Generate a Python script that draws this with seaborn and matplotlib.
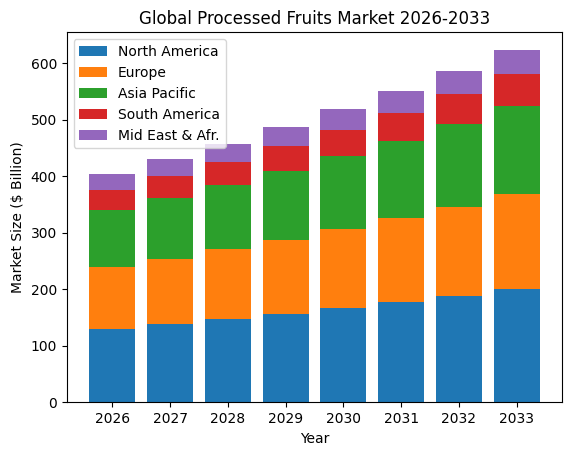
import matplotlib
matplotlib.use("Agg")
from matplotlib import pyplot as plt
import numpy as np
import pandas as pd
import seaborn as sns

years = ['2026', '2027', '2028', '2029', '2030', '2031', '2032', '2033']
regions = ['North America', 'Europe', 'Asia Pacific', 'South America', 'Mid East & Afr.']
north_america = [129, 138, 147, 156, 167, 178, 188, 201]
europe = [110, 115, 124, 131, 140, 149, 158, 168]
asia_pacific = [101, 108.5, 113.5, 122, 129.5, 135.5, 147, 156]
south_america = [35.5, 39, 41.3, 44.7, 46, 50.2, 53.3, 56.8]
mid_east_afr = [28.3, 30, 31.4, 33.6, 36.6, 38.4, 40.3, 42]
colors = ['#1f77b4', '#ff7f0e', '#2ca02c', '#d62728', '#9467bd']

series = [north_america, europe, asia_pacific, south_america, mid_east_afr]

fig = plt.figure(figsize=(5.71, 4.55), dpi=100)
ax = fig.add_axes([0.1168, 0.1158, 0.868, 0.8132])

bottom = np.zeros(len(years))
for name, vals, c in zip(regions, series, colors):
    df = pd.DataFrame({'Year': years, 'Value': vals})
    sns.barplot(data=df, x='Year', y='Value', color=c, saturation=1,
                bottom=bottom, label=name, width=0.8, ax=ax)
    bottom = bottom + np.array(vals)

ax.set_xlim(-0.79, 7.79)
ax.set_ylim(0, bottom.max() * 1.05)
ax.set_title('Global Processed Fruits Market 2026-2033')
ax.set_xlabel('Year')
ax.set_ylabel(r'Market Size (\$ Billion)')
ax.legend(loc='upper left')

plt.savefig('out.png', dpi=100)
